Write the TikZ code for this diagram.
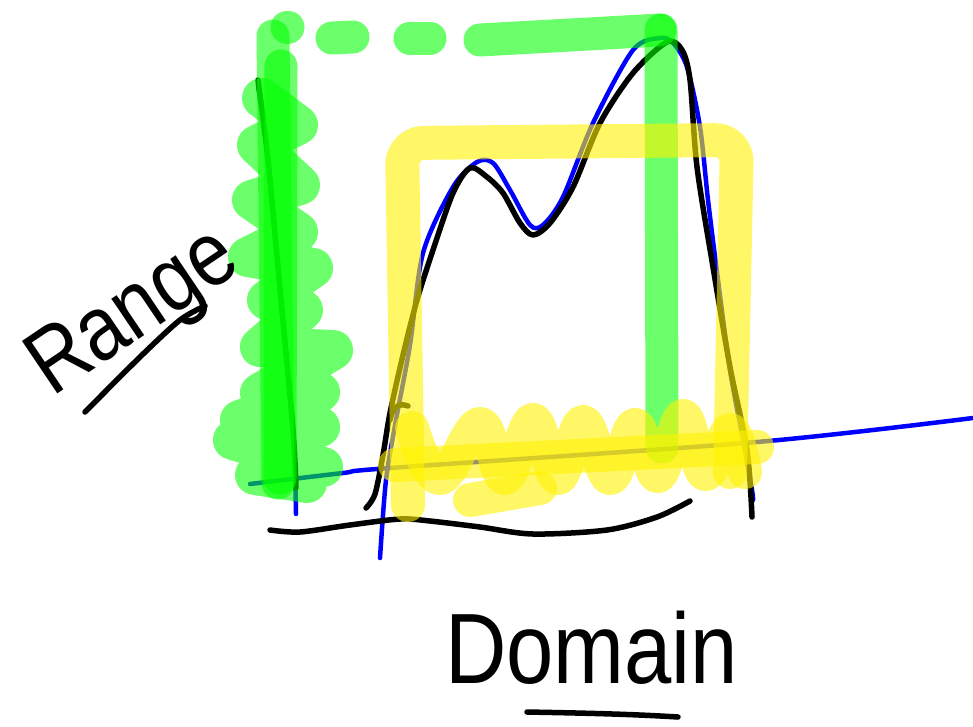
\documentclass[tikz,border=0pt]{standalone}
\usepackage{fontspec}
\setmainfont{Liberation Sans}
\usetikzlibrary{positioning}

\begin{document}
\begin{tikzpicture}[
	x = 1pt, y = -1pt,
	pen/.style = {draw = black, line width = 5.5pt, line cap = round, line join = round},
	axis/.style = {draw = blue, line width = 4.5pt, line cap = round, line join = round},
	greenmark/.style = {draw = green, draw opacity = 0.58, line width = 33pt, line cap = round, line join = round},
	yellowmark/.style = {draw = yellow, draw opacity = 0.6, line width = 34pt, line cap = round, line join = round},
	word/.style = {font = \fontsize{100}{100}\selectfont, inner sep = 0pt, xscale = 0.85}
	]
	
	\useasboundingbox (0, 0) rectangle (973, 726);
	
	% axes
	\draw[axis] plot[smooth] coordinates {(250,484) (343,473) (390,468) (757,442) (973,418)};
	\draw[axis] plot[smooth] coordinates {(258,85) (268,160) (281,300) (293,430) (296,514)};
	
	% the function, blue first and black over it
	\draw[axis] plot[smooth] coordinates {(380,558) (386,480) (396,420) (410,345) (423,253) (453,187) (477,162) (493,163) (510,190) (530,225) (543,225) (563,197) (593,123) (633,50) (660,38) (673,43) (687,67) (700,127) (708,200) (718,280) (730,370) (743,440) (752,490) (753,500)};
	\draw[pen] plot[smooth] coordinates {(366,508) (375,494) (383,455) (390,413) (403,355) (417,300) (433,250) (453,193) (470,168) (487,177) (503,193) (520,223) (533,235) (550,223) (573,187) (600,123) (633,73) (667,42) (682,50) (690,80) (697,167) (713,267) (730,367) (747,450) (752,517)};
	\draw[pen] (390,420) .. controls (393,405) and (400,403) .. (408,406);
	\draw[pen] plot[smooth] coordinates {(258,80) (268,160) (281,300) (293,430) (296,488)};
	
	% brace under the domain
	\draw[pen] plot[smooth] coordinates {(270,530) (300,532) (350,525) (400,519) (430,521) (480,527) (533,534) (607,530) (657,517) (690,501)};
	
	% green marker: range
	\draw[greenmark, line width = 40pt] (262,98) -- (298,125) -- (257,145) -- (300,185) -- (252,200) -- (298,232) -- (248,257) -- (313,268) -- (267,300) -- (303,310) -- (260,347) -- (333,350) -- (260,393) -- (320,392) -- (240,420) -- (320,427) -- (233,440) -- (323,467) -- (255,475) -- (307,483);
	\draw[greenmark] (273,36) -- (278,483);
	\draw[greenmark] (281,66) -- (280,478);
	\draw[greenmark] (287,27) -- (288,27);
	\draw[greenmark] (332,38) -- (353,37);
	\draw[greenmark] (410,38) -- (430,38);
	\draw[greenmark] (480,40) -- (660,30);
	\draw[greenmark] (661,30) -- (662,447);
	
	% yellow marker: domain
	\draw[yellowmark, rounded corners = 22] (408,505) -- (402,143) -- (737,140) -- (730,472);
	\draw[yellowmark] (395,465) -- (757,447);
	\draw[yellowmark] plot[smooth, tension = 0.7] coordinates {(412,428) (440,478) (480,424) (505,478) (533,420) (558,478) (583,422) (610,478) (635,425) (658,476) (683,416) (705,474) (730,430) (745,472)};
	\draw[yellowmark] (470,500) -- (540,488);
	
	% labels
	\node[rotate = 34, word, anchor = base west, font = \fontsize{92}{92}\selectfont] (range) at (52,398) {Range};
	\draw[pen] plot[smooth] coordinates {(85,412) (140,357) (180,320) (205,306)};
	
	\node[word, anchor = base west] (domain) at (445,683) {Domain};
	\draw[pen] (527,712) .. controls (580,713) and (630,714) .. (678,717);

\end{tikzpicture}
\end{document}
